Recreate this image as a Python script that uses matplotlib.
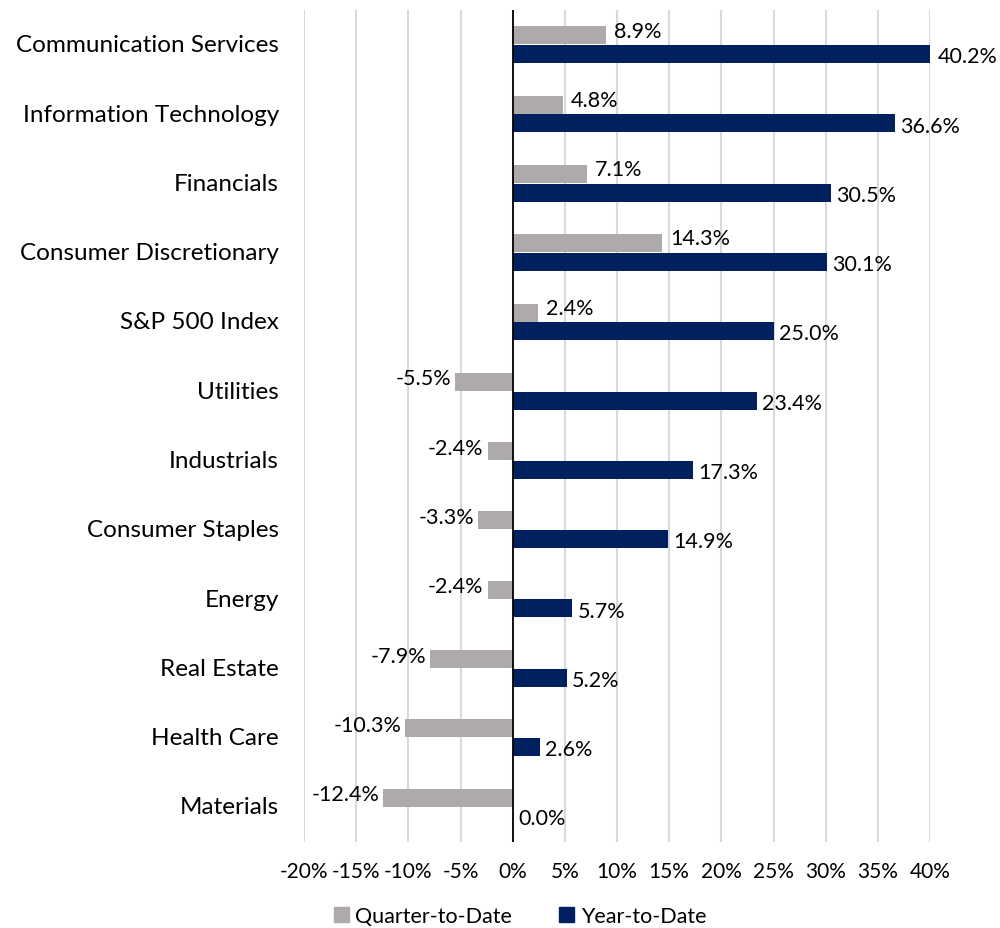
import numpy as np
import matplotlib.pyplot as plt
from matplotlib.patches import Patch

categories = ["Communication Services", "Information Technology", "Financials",
              "Consumer Discretionary", "S&P 500 Index", "Utilities", "Industrials",
              "Consumer Staples", "Energy", "Real Estate", "Health Care", "Materials"]
qtd = [8.9, 4.8, 7.1, 14.3, 2.4, -5.5, -2.4, -3.3, -2.4, -7.9, -10.3, -12.4]
ytd = [40.2, 36.6, 30.5, 30.1, 25.0, 23.4, 17.3, 14.9, 5.7, 5.2, 2.6, 0.0]
xticks = [-20, -15, -10, -5, 0, 5, 10, 15, 20, 25, 30, 35, 40]

plt.rcParams['font.family'] = ['Lato', 'DejaVu Sans']

gray = "#AEAAAA"
navy = "#002060"

fig = plt.figure(figsize=(10, 9.29), dpi=100)
ax = fig.add_axes([0.304, 0.093, 0.626, 0.895])

y = np.arange(len(categories))
h = 0.26
off = 0.135
ax.barh(y - off, qtd, height=h, color=gray, zorder=2)
ax.barh(y + off, ytd, height=h, color=navy, zorder=2)

# value labels
for i in range(len(categories)):
    q = qtd[i]
    if q >= 0:
        ax.text(q + 0.8, y[i] - off - 0.07, f"{q:.1f}%", ha="left", va="center", fontsize=15.5)
    else:
        ax.text(q - 0.4, y[i] - off - 0.05, f"{q:.1f}%", ha="right", va="center", fontsize=15.5)
    ax.text(ytd[i] + 0.5, y[i] + off + 0.03, f"{ytd[i]:.1f}%", ha="left", va="center", fontsize=15.5)

ax.set_ylim(len(categories) - 0.5, -0.5)
ax.set_xlim(-20, 40)
ax.set_xticks(xticks)
ax.set_xticklabels([f"{t}%" for t in xticks], fontsize=15)
ax.set_yticks(y)
ax.set_yticklabels(categories, fontsize=17.5, va="center")
ax.tick_params(axis="both", length=0)
ax.tick_params(axis="x", pad=14)
ax.tick_params(axis="y", pad=18)

ax.grid(axis="x", color="#D9D9D9", linewidth=1.5, zorder=0)
ax.axvline(0, color="black", linewidth=1.3, zorder=3)
for s in ax.spines.values():
    s.set_visible(False)

handles = [Patch(color=gray, label="Quarter-to-Date"), Patch(color=navy, label="Year-to-Date")]
fig.legend(handles=handles, loc="center", bbox_to_anchor=(0.52, 0.013), ncol=2,
           frameon=False, fontsize=15.5, handlelength=0.7, handleheight=0.7,
           handletextpad=0.3, columnspacing=2.2)

fig.savefig("out.png", dpi=100)
